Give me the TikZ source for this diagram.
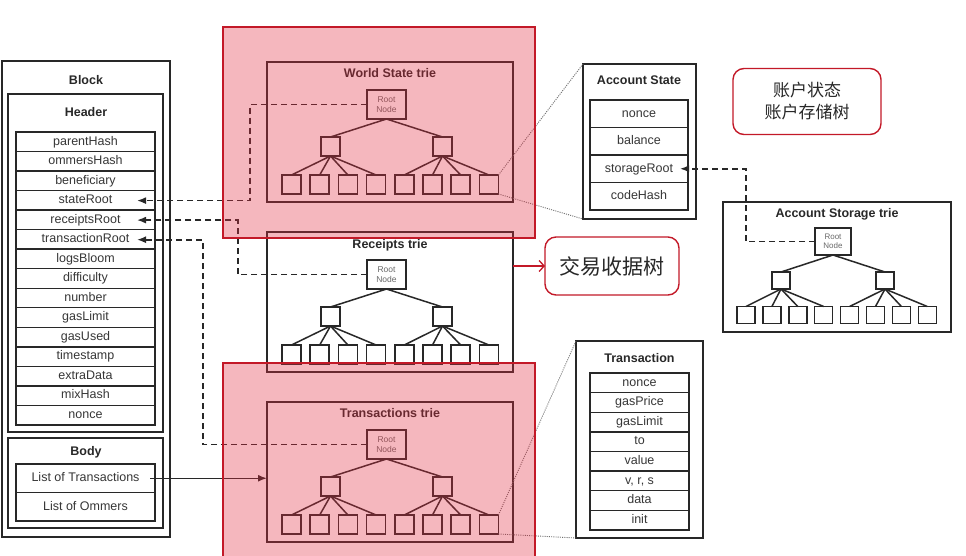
\documentclass[tikz,border=0pt]{standalone}
\usepackage{fontspec}
\setmainfont{Liberation Sans}
\newfontfamily\cjk{Noto Sans CJK SC}
\usetikzlibrary{arrows.meta,calc}
\definecolor{ln}{RGB}{40,40,40}
\definecolor{txt}{RGB}{55,55,55}
\definecolor{rtxt}{RGB}{105,105,105}
\definecolor{pinkfill}{RGB}{228,45,65}
\definecolor{redline}{RGB}{195,25,40}
\definecolor{dotgray}{RGB}{110,110,110}
\tikzset{
  box/.style={draw=ln, line width=1.5pt, inner sep=0, outer sep=0},
  field/.style={draw=ln, line width=1.4pt, inner sep=0, outer sep=0, text=txt, text height=9pt, text depth=2.5pt, font=\fontsize{12.5}{14}\selectfont},
  ttl/.style={font=\bfseries\fontsize{12.5}{15}\selectfont, text=ln, inner sep=0},
  tnode/.style={draw=ln, line width=1.5pt, inner sep=0, outer sep=0, minimum width=19, minimum height=19},
  snode/.style={draw=ln, line width=1.5pt, inner sep=0, outer sep=0, minimum width=18, minimum height=17},
  rootn/.style={draw=ln, line width=1.5pt, inner sep=0, outer sep=0, minimum width=39, minimum height=29, align=center, text=rtxt, font=\fontsize{8.5}{10}\selectfont},
  edge/.style={draw=ln, line width=1.5pt},
  dashconn/.style={draw=ln, line width=1.6pt, dash pattern=on 6pt off 4pt, -{Latex[length=9pt,width=7pt]}},
  solidconn/.style={draw=ln, line width=1.5pt, -{Latex[length=9pt,width=7pt]}},
  dotconn/.style={draw=dotgray, line width=0.9pt, dash pattern=on 1pt off 1.2pt},
  overlayrect/.style={fill=pinkfill, fill opacity=0.34, draw=redline, line width=1.3pt, inner sep=0, outer sep=0, anchor=north west},
  redbox/.style={draw=redline, line width=1.4pt, rounded corners=11pt, fill=white, text=ln, align=center, inner sep=0, outer sep=0},
  redarrow/.style={draw=redline, line width=1.3pt, -{Straight Barb[length=5pt,width=11pt]}}
}
\newcommand\bigtrie[4]{%
  \node[box, minimum width=246, minimum height=140, anchor=north west] (#1box) at (267,#2) {};
  \node[ttl] (#1title) at (390,#2+#4) {#3};
  \node[rootn] (#1root) at (386.5,#2+42.5) {Root\\Node};
  \node[tnode] (#1a) at (330.5,#2+84.5) {};
  \node[tnode] (#1b) at (442.5,#2+84.5) {};
  \foreach \i in {1,...,8} {\node[tnode] (#1l\i) at ({291.5+28.2*(\i-1)},#2+122.5) {};}
  \draw[edge] (#1root.south) -- (#1a.north) (#1root.south) -- (#1b.north);
  \foreach \i in {1,...,4} {\draw[edge] (#1a.south) -- (#1l\i.north);}
  \foreach \i in {5,...,8} {\draw[edge] (#1b.south) -- (#1l\i.north);}
}
\begin{document}
\begin{tikzpicture}[x=1pt,y=-1pt]
\useasboundingbox (0,0) rectangle (966,555);
\fill[white] (0,0) rectangle (966,555);

% ---------------- Block ----------------
\node[box, minimum width=168, minimum height=476, anchor=north west] (block) at (2,61) {};
\node[ttl] (blockt) at (86,80) {Block};
\node[box, minimum width=155, minimum height=338, anchor=north west] (header) at (8,94) {};
\node[ttl] (headert) at (86,112) {Header};
\foreach \t [count=\i] in {parentHash,ommersHash,beneficiary,stateRoot,receiptsRoot,transactionRoot,logsBloom,difficulty,number,gasLimit,gasUsed,timestamp,extraData,mixHash,nonce}
  {\node[field, minimum width=139, minimum height=19.53] (h\i) at (85.5,{132+19.53*(\i-0.5)}) {\t};}
\node[box, minimum width=155, minimum height=90, anchor=north west] (body) at (8,438) {};
\node[ttl] (bodyt) at (86,452) {Body};
\node[field, minimum width=139, minimum height=28.5] (lot) at (85.5,478.25) {List of Transactions};
\node[field, minimum width=139, minimum height=28.5] (loo) at (85.5,506.75) {List of Ommers};

% ---------------- Tries ----------------
\bigtrie{ws}{62}{World State trie}{11.5}
\bigtrie{rc}{232}{Receipts trie}{13}
\bigtrie{tx}{402}{Transactions trie}{11.5}

% ---------------- Account State ----------------
\node[box, minimum width=113, minimum height=155, anchor=north west] (as) at (583,64) {};
\node[ttl] (ast) at (639,80) {Account State};
\foreach \t [count=\i] in {nonce,balance,storageRoot,codeHash}
  {\node[field, minimum width=98, minimum height=27.5] (a\i) at (639,{100+27.5*(\i-0.5)}) {\t};}

% ---------------- Account Storage trie ----------------
\node[box, minimum width=228, minimum height=130, anchor=north west] (st) at (723,202) {};
\node[ttl] (stt) at (837,214) {Account Storage trie};
\node[rootn, minimum width=36, minimum height=27, font=\fontsize{8}{9.5}\selectfont] (stroot) at (833,241.5) {Root\\Node};
\node[snode] (sta) at (781,280.5) {};
\node[snode] (stb) at (885,280.5) {};
\foreach \i in {1,...,8} {\node[snode] (stl\i) at ({746+25.9*(\i-1)},315) {};}
\draw[edge] (stroot.south) -- (sta.north) (stroot.south) -- (stb.north);
\foreach \i in {1,...,4} {\draw[edge] (sta.south) -- (stl\i.north);}
\foreach \i in {5,...,8} {\draw[edge] (stb.south) -- (stl\i.north);}

% ---------------- Transaction ----------------
\node[box, minimum width=127, minimum height=197, anchor=north west] (tr) at (576,341) {};
\node[ttl] (trt) at (639.5,358) {Transaction};
\foreach \t [count=\i] in {nonce,gasPrice,gasLimit,to,value,{v, r, s},data,init}
  {\node[field, minimum width=99, minimum height=19.6] (t\i) at (639.5,{373+19.6*(\i-0.5)}) {\t};}

% ---------------- connectors ----------------
\coordinate (srT) at (137,200.6);
\coordinate (rrT) at (137,220.1);
\coordinate (trT) at (137,239.7);
\coordinate (sgT) at (680,168.75);
\draw[dashconn] (wsroot.west) -- (250,104.5) -- (250,200.6) -- (srT);
\draw[dashconn] (rcroot.west) -- (238,274.5) -- (238,220.1) -- (rrT);
\draw[dashconn] (txroot.west) -- (203,444.5) -- (203,239.7) -- (trT);
\draw[dashconn] (stroot.west) -- (746,241.5) -- (746,168.75) -- (sgT);
\coordinate (lotS) at (150,478.25);
\draw[solidconn] (lotS) -- (lotS -| txbox.west);
\draw[dotconn] (wsl8.north east) -- (as.north west);
\draw[dotconn] (wsl8.south east) -- (as.south west);
\draw[dotconn] (txl8.north east) -- (tr.north west);
\draw[dotconn] (txl8.south east) -- (tr.south west);

% ---------------- overlays ----------------
\node[overlayrect, minimum width=312, minimum height=211] (wsov) at (223,27) {};
\node[overlayrect, minimum width=312, minimum height=200] (txov) at (223,363) {};

% ---------------- red notes ----------------
\node[redbox, minimum width=134, minimum height=58, font=\cjk\fontsize{21}{24}\selectfont] (jy) at (612,266) {交易收据树};
\draw[redarrow] (jy.west -| rcbox.east) -- (jy.west);
\node[redbox, minimum width=148, minimum height=66, font=\cjk\fontsize{17}{22}\selectfont] (zh) at (807,101.5) {账户状态\\账户存储树};
\end{tikzpicture}
\end{document}
